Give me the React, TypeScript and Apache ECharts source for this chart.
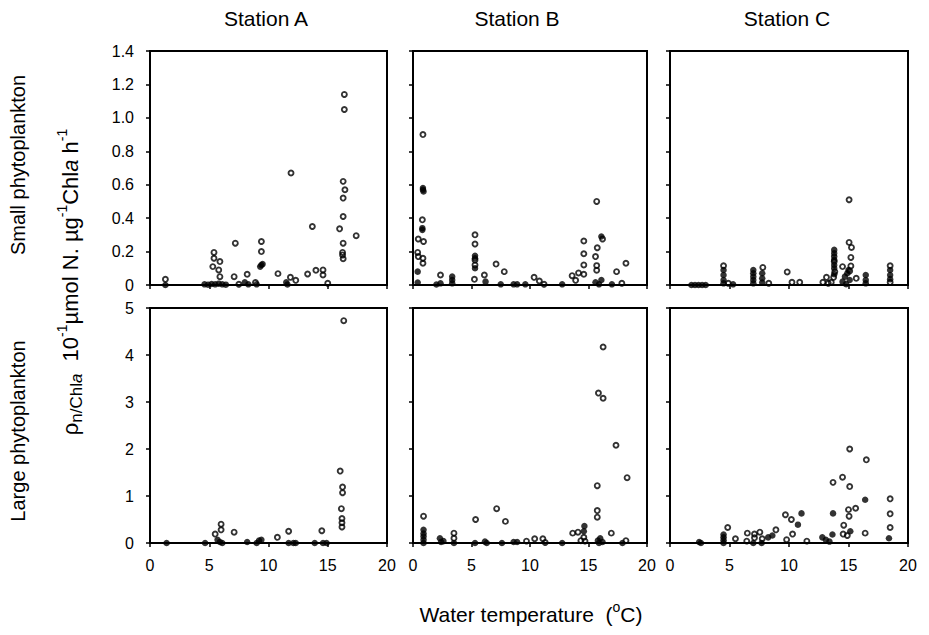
import React, { useEffect, useRef } from "react";
import * as echarts from "echarts";

// ---- Data (x = water temperature °C, y = uptake rate) ----
const stations = ["Station A", "Station B", "Station C"];
const rowLabels = ["Small phytoplankton", "Large phytoplankton"];
const xTicks = [0, 5, 10, 15, 20];
const smallTicks = [0, 0.2, 0.4, 0.6, 0.8, 1.0, 1.2, 1.4];
const largeTicks = [0, 1, 2, 3, 4, 5];

const smallA_open = [[1.3,0.034],[5.4,0.195],[5.4,0.16],[5.3,0.11],[5.9,0.14],[5.8,0.09],[5.9,0.05],[7.2,0.25],[7.1,0.05],[8.2,0.064],[7.5,0.004],[9.4,0.26],[9.4,0.2],[8.9,0.015],[10.8,0.068],[11.9,0.67],[11.85,0.046],[12.3,0.028],[13.3,0.066],[13.7,0.35],[14.0,0.088],[14.6,0.09],[14.6,0.06],[15.0,0.01],[16.4,1.14],[16.4,1.05],[16.3,0.62],[16.45,0.57],[16.3,0.52],[16.3,0.41],[16.0,0.336],[17.4,0.295],[16.3,0.25],[16.25,0.195],[16.25,0.18],[16.3,0.157]];
const smallA_filled = [[1.3,0],[4.6,0.004],[4.9,0.002],[5.2,0.006],[5.5,0.004],[5.8,0.008],[6.1,0.004],[6.4,0.002],[8.0,0.016],[8.3,0.004],[9.3,0.11],[9.4,0.12],[9.5,0.125],[9.0,0.004],[11.5,0.016],[11.6,0.003]];

const smallB_open = [[0.85,0.9],[0.8,0.39],[0.45,0.275],[0.9,0.26],[0.4,0.195],[0.45,0.17],[0.85,0.16],[0.85,0.13],[2.35,0.06],[5.3,0.3],[5.3,0.245],[5.3,0.15],[5.3,0.12],[5.25,0.034],[6.1,0.06],[7.1,0.125],[7.8,0.08],[10.35,0.046],[10.8,0.024],[11.2,0.004],[13.6,0.056],[13.9,0.028],[14.15,0.072],[14.6,0.263],[14.6,0.187],[14.6,0.12],[14.6,0.064],[15.7,0.5],[15.75,0.223],[15.6,0.17],[15.7,0.116],[15.7,0.088],[16.2,0.275],[17.4,0.08],[17.85,0.01],[18.2,0.13]];
const smallB_filled = [[0.85,0.58],[0.9,0.56],[0.85,0.57],[0.8,0.34],[0.8,0.33],[0.4,0.08],[0.4,0.015],[2.35,0.01],[2.0,0.003],[3.35,0.05],[3.35,0.03],[3.35,0.01],[5.3,0.175],[5.3,0.16],[5.3,0.1],[6.2,0.02],[7.5,0.004],[8.6,0.004],[8.9,0.004],[9.6,0.004],[12.75,0.004],[15.6,0.016],[16.1,0.29],[16.1,0.03],[15.9,0.004],[17.0,0.004]];

const smallC_open = [[4.5,0.115],[4.9,0.01],[7.8,0.105],[8.3,0.01],[9.85,0.078],[10.25,0.016],[10.9,0.016],[12.85,0.016],[13.15,0.046],[13.3,0.01],[13.8,0.14],[13.85,0.08],[13.75,0.046],[13.55,0.016],[14.5,0.11],[15.05,0.51],[15.05,0.255],[15.25,0.225],[15.2,0.165],[15.2,0.114],[15.1,0.084],[15.65,0.04],[18.5,0.115],[18.5,0.016]];
const smallC_filled = [[1.8,0],[2.1,0],[2.4,0],[2.7,0],[3.0,0],[4.5,0.09],[4.5,0.06],[4.5,0.03],[4.5,0.01],[5.3,0.004],[7.0,0.09],[7.0,0.07],[7.0,0.05],[7.0,0.03],[7.0,0.01],[7.75,0.07],[7.75,0.04],[7.75,0.015],[13.8,0.21],[13.8,0.19],[13.8,0.17],[13.8,0.15],[13.8,0.12],[13.8,0.1],[13.8,0.065],[14.5,0.02],[14.7,0.05],[14.9,0.07],[15.0,0.09],[15.1,0.03],[14.8,0.005],[16.45,0.06],[16.45,0.03],[16.45,0.01],[18.5,0.09],[18.5,0.06],[18.5,0.035]];

const largeA_open = [[5.5,0.19],[6.0,0.4],[6.0,0.28],[7.1,0.23],[10.75,0.12],[11.7,0.25],[14.5,0.26],[16.35,4.73],[16.05,1.53],[16.25,1.19],[16.25,1.07],[16.15,0.73],[16.2,0.52],[16.2,0.43],[16.2,0.34]];
const largeA_filled = [[1.4,0],[4.65,0],[5.7,0.07],[5.9,0.02],[6.1,0],[8.2,0.02],[9.0,0],[9.2,0.05],[9.4,0.07],[11.7,0],[12.1,0],[12.3,0],[13.9,0],[14.6,0],[14.9,0]];

const largeB_open = [[0.9,0.57],[3.5,0.21],[3.5,0.1],[5.35,0.5],[7.15,0.73],[7.9,0.46],[9.7,0.04],[10.4,0.09],[11.1,0.09],[11.3,0.01],[13.65,0.21],[14.1,0.23],[14.35,0.05],[14.6,0.12],[14.7,0.04],[15.75,1.22],[15.75,0.69],[15.75,0.55],[15.85,3.19],[16.25,3.08],[16.25,4.17],[17.35,2.08],[18.3,1.39],[16.95,0.21],[18.2,0.05]];
const largeB_filled = [[0.9,0.28],[0.9,0.2],[0.9,0.14],[0.9,0.07],[0.9,0],[2.3,0.1],[2.4,0.02],[2.6,0.04],[3.5,0],[5.3,0],[6.15,0.03],[6.3,0],[7.6,0],[8.6,0.02],[8.9,0.02],[12.75,0],[14.65,0.36],[14.6,0.25],[15.8,0.05],[16.0,0.1],[16.2,0.02],[15.9,0],[17.9,0]];

const largeC_open = [[4.85,0.33],[5.5,0.09],[6.5,0.21],[6.45,0.04],[7.1,0.19],[7.1,0.11],[7.55,0.23],[7.75,0.09],[8.9,0.28],[9.7,0.6],[10.2,0.5],[10.3,0.19],[9.8,0.07],[11.5,0.04],[13.7,1.29],[14.5,1.4],[14.6,0.38],[14.55,0.19],[15.1,2.0],[15.1,1.2],[15.0,0.71],[15.05,0.57],[15.6,0.74],[14.9,0.16],[16.5,1.77],[16.4,0.21],[18.5,0.94],[18.5,0.62],[18.5,0.33]];
const largeC_filled = [[2.45,0.02],[2.6,0],[4.5,0.18],[4.5,0.12],[4.5,0.06],[4.5,0],[7.0,0],[7.7,0],[8.25,0.12],[8.6,0.16],[10.75,0.39],[11.05,0.63],[12.8,0.12],[13.1,0.07],[13.4,0.03],[13.7,0.63],[13.65,0.18],[15.15,0.25],[16.4,0.92],[18.4,0.1]];

const panels = [
  { open: smallA_open, filled: smallA_filled },
  { open: smallB_open, filled: smallB_filled },
  { open: smallC_open, filled: smallC_filled },
  { open: largeA_open, filled: largeA_filled },
  { open: largeB_open, filled: largeB_filled },
  { open: largeC_open, filled: largeC_filled },
];

const FONT = '"Liberation Sans", Arial, Helvetica, sans-serif';

export default function App() {
  const ref = useRef<HTMLDivElement>(null);
  useEffect(() => {
    if (!ref.current) return;
    const chart = echarts.init(ref.current, null, { renderer: "svg" });
    const lefts = [150, 413, 670];
    const widths = [237, 234, 238];
    const tops = [51, 308];
    const heights = [234, 235];

    const grid: any[] = [];
    const xAxis: any[] = [];
    const yAxis: any[] = [];
    const series: any[] = [];
    for (let r = 0; r < 2; r++) {
      for (let c = 0; c < 3; c++) {
        const i = r * 3 + c;
        grid.push({
          left: lefts[c], top: tops[r], width: widths[c], height: heights[r],
          show: true, borderColor: "#000", borderWidth: 2, backgroundColor: "transparent",
        });
        xAxis.push({
          gridIndex: i, type: "value", min: xTicks[0], max: xTicks[xTicks.length - 1], interval: 5,
          axisLine: { show: true, onZero: false, lineStyle: { color: "#000", width: 2 } },
          axisTick: { show: true, inside: false, length: 4, lineStyle: { color: "#000", width: 1.5 } },
          axisLabel: { show: r === 1, margin: 14, color: "#000", fontSize: 16, fontFamily: FONT },
          splitLine: { show: false },
        });
        const ticks = r === 0 ? smallTicks : largeTicks;
        yAxis.push({
          gridIndex: i, type: "value", min: 0, max: ticks[ticks.length - 1],
          interval: r === 0 ? 0.2 : 1,
          axisLine: { show: true, onZero: false, lineStyle: { color: "#000", width: 2 } },
          axisTick: { show: true, inside: false, length: 4, lineStyle: { color: "#000", width: 1.5 } },
          axisLabel: {
            show: c === 0, margin: 16, color: "#000", fontSize: 16, fontFamily: FONT,
            formatter: (v: number) => (v === 0 ? "0" : r === 0 ? v.toFixed(1) : String(Math.round(v))),
          },
          splitLine: { show: false },
        });
        series.push({
          type: "scatter", xAxisIndex: i, yAxisIndex: i, data: panels[i].filled,
          symbol: "circle", symbolSize: 6.5, clip: false,
          itemStyle: { color: "#000" },
        });
        series.push({
          type: "scatter", xAxisIndex: i, yAxisIndex: i, data: panels[i].open,
          symbol: "circle", symbolSize: 5, clip: false,
          itemStyle: { color: "rgba(255,255,255,0)", borderColor: "#000", borderWidth: 1.9 },
        });
      }
    }

    const txt = (x: number, y: number, text: string, fontSize: number, rotation = 0, extra: any = {}) => ({
      type: "text", x, y, rotation,
      style: {
        text, fontSize, fontFamily: FONT, fill: "#000",
        align: "center", verticalAlign: "middle",
        textAlign: "center", textVerticalAlign: "middle",
        ...extra,
      },
    });

    const titleX = [266, 517, 787];
    const graphic: any[] = [
      ...stations.map((s, k) => txt(titleX[k], 18, s, 21)),
      txt(18, 165, rowLabels[0], 20, Math.PI / 2),
      txt(18, 431, rowLabels[1], 20, Math.PI / 2),
      txt(70, 282, "{b|ρ}{sub|n/Chl}{subi|a}{b|  10}{sup|-1}{b|µmol N. µg}{sup|-1}{b|Chl}{bi|a}{b| h}{sup|-1}", 22, Math.PI / 2, {
        rich: {
          b: { fontSize: 22, fontFamily: FONT, fill: "#000", lineHeight: 30 },
          bi: { fontSize: 22, fontFamily: FONT, fill: "#000", fontStyle: "italic", lineHeight: 30 },
          sup: { fontSize: 14, fontFamily: FONT, fill: "#000", verticalAlign: "top" },
          sub: { fontSize: 17, fontFamily: FONT, fill: "#000", verticalAlign: "bottom" },
          subi: { fontSize: 17, fontFamily: FONT, fill: "#000", fontStyle: "italic", verticalAlign: "bottom" },
        },
      }),
      txt(531, 614, "{b|Water temperature  (}{sup|o}{b|C)}", 21, 0, {
        rich: {
          b: { fontSize: 21, fontFamily: FONT, fill: "#000", lineHeight: 28 },
          sup: { fontSize: 14, fontFamily: FONT, fill: "#000", verticalAlign: "top" },
        },
      }),
    ];

    chart.setOption({
      animation: false,
      backgroundColor: "#fff",
      grid, xAxis, yAxis, series, graphic,
    });
    return () => chart.dispose();
  }, []);
  return <div ref={ref} style={{ position: "fixed", left: 0, top: 0, width: 929, height: 635 }} />;
}
